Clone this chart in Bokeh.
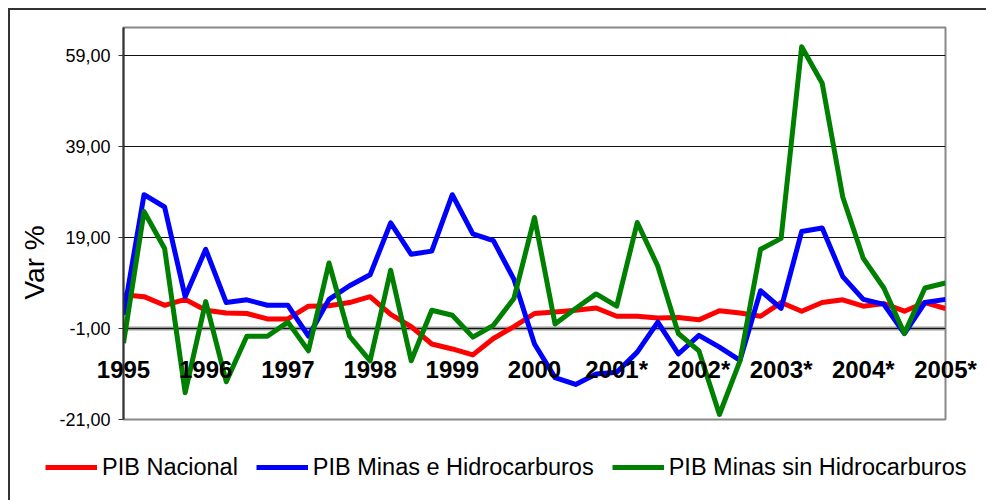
from bokeh.plotting import figure
from bokeh.models import (Range1d, FixedTicker, Legend, LegendItem, LabelSet,
                          ColumnDataSource, Span)
from bokeh.core.properties import value
from bokeh.embed import file_html
from bokeh.resources import INLINE

# Quarterly observations, 1995 Q1 .. 2005 Q1
quarters = list(range(41))
pib_nacional = [6.4, 6.0, 4.1, 5.4, 3.0, 2.4, 2.3, 1.1, 1.1, 3.9, 4.0, 4.7, 6.0, 2.1,
                -0.6, -4.4, -5.5, -6.8, -3.2, -0.6, 2.3, 2.6, 3.0, 3.5, 1.7, 1.7, 1.3,
                1.4, 0.9, 2.9, 2.4, 1.7, 4.7, 2.8, 4.7, 5.3, 3.9, 4.5, 2.8, 4.7, 3.4]
pib_minas_hidro = [2.0, 28.4, 25.7, 6.0, 16.4, 4.7, 5.3, 4.1, 4.1, -2.7, 5.4, 8.4, 10.8,
                   22.2, 15.3, 16.0, 28.4, 19.8, 18.3, 9.8, -4.4, -11.8, -13.3, -11.0,
                   -10.6, -6.2, 0.4, -6.6, -2.5, -5.1, -8.0, 7.3, 3.4, 20.3, 21.1, 10.4,
                   5.4, 4.3, -2.1, 4.7, 5.4]
pib_minas_sin_hidro = [-4.2, 24.7, 16.6, -15.1, 4.9, -12.7, -2.7, -2.7, 0.4, -5.9, 13.4,
                       -2.7, -8.1, 11.8, -8.1, 3.0, 1.9, -2.9, -0.3, 5.6, 23.4, 0.0, 3.4,
                       6.6, 3.9, 22.3, 12.7, -2.1, -5.9, -19.9, -8.1, 16.4, 18.8, 60.9,
                       52.9, 27.9, 14.4, 7.9, -2.1, 7.9, 9.0]

year_positions = [0, 4, 8, 12, 16, 20, 24, 28, 32, 36, 40]
year_labels = ["1995", "1996", "1997", "1998", "1999", "2000",
               "2001*", "2002*", "2003*", "2004*", "2005*"]
year_label_level = -10.0   # category labels sit below the axis crossing

y_ticks = [-21, -1, 19, 39, 59]
y_tick_labels = ["-21,00", "-1,00", "19,00", "39,00", "59,00"]
category_axis_crossing = -1

series_names = ["PIB Nacional", "PIB Minas e Hidrocarburos", "PIB Minas sin Hidrocarburos"]
series_colors = ["#ff0000", "#0000ff", "#008000"]

FONT = "Liberation Sans"
LINE_W = 5
W, H = 978, 492
BL, BT, BR, BB = 113, 17, 43, 83
X0, X1 = 0, 40
Y0, Y1 = -21, 65.15

p = figure(width=W, height=H, output_backend="svg", toolbar_location=None,
           x_range=Range1d(X0, X1), y_range=Range1d(Y0, Y1),
           x_axis_type=None,
           min_border_left=BL, min_border_top=BT, min_border_right=BR,
           min_border_bottom=BB)
p.styles = {"position": "absolute", "left": "8px", "top": "8px",
            "border-left": "2px solid #333333", "border-top": "2px solid #333333"}
p.background_fill_color = "white"
p.border_fill_color = "white"
p.outline_line_color = "#888888"
p.outline_line_width = 2

# value axis
ax = p.yaxis[0]
ax.ticker = FixedTicker(ticks=y_ticks)
ax.major_label_overrides = {t: l for t, l in zip(y_ticks, y_tick_labels)}
ax.major_label_text_font = FONT
ax.major_label_text_font_size = "18px"
ax.major_label_text_color = "black"
ax.major_label_standoff = 8
ax.major_tick_out = 5
ax.major_tick_in = 0
ax.minor_tick_line_color = None
ax.axis_line_color = "#333333"
ax.axis_line_width = 2
ax.major_tick_line_color = "#333333"
ax.axis_label = "Var %" + "\u00a0" * 10
ax.axis_label_text_font = FONT
ax.axis_label_text_font_size = "28px"
ax.axis_label_text_font_style = "normal"
ax.axis_label_text_color = "black"
ax.axis_label_standoff = 6

p.ygrid.ticker = FixedTicker(ticks=y_ticks)
p.ygrid.grid_line_color = "#111111"
p.ygrid.grid_line_width = 1
p.xgrid.grid_line_color = None

# category axis line crossing at -1 (drawn beneath the grid line)
p.add_layout(Span(location=category_axis_crossing, dimension="width",
                  line_color="#999999", line_width=4, level="image"))

for vals, col in zip([pib_nacional, pib_minas_hidro, pib_minas_sin_hidro], series_colors):
    p.line(quarters, vals, line_color=col, line_width=LINE_W, line_join="round")

# transparent overlay with the same scales, covering the whole chart area,
# so that category labels and legend are not clipped by the plot frame
fw, fh = W - BL - BR, H - BT - BB
ux, uy = (X1 - X0) / fw, (Y1 - Y0) / fh
ov = figure(width=W, height=H, output_backend="svg", toolbar_location=None,
            x_range=Range1d(X0 - BL * ux, X1 + BR * ux),
            y_range=Range1d(Y0 - BB * uy, Y1 + BT * uy),
            x_axis_type=None, y_axis_type=None,
            min_border_left=0, min_border_right=0, min_border_top=0, min_border_bottom=0)
ov.styles = {"position": "absolute", "left": "10px", "top": "10px"}
ov.background_fill_alpha = 0
ov.border_fill_alpha = 0
ov.outline_line_color = None
ov.grid.visible = False

src = ColumnDataSource(dict(x=year_positions, y=[year_label_level] * len(year_positions),
                            t=year_labels))
ov.add_layout(LabelSet(x="x", y="y", text="t", source=src, text_align="center",
                       text_baseline="middle", text_font=value(FONT),
                       text_font_size=value("24px"), text_font_style="bold",
                       text_color="black"))

leg_renderers = [ov.line([X0], [float("nan")], line_color=c, line_width=LINE_W)
                 for c in series_colors]
legend = Legend(items=[LegendItem(label=n, renderers=[r]) for n, r in zip(series_names, leg_renderers)],
                orientation="horizontal", location=(35, 20),
                label_text_font=FONT, label_text_font_size="23.5px",
                label_text_color="black", glyph_width=52, glyph_height=30,
                label_height=30, label_standoff=5, spacing=18, padding=0, margin=0,
                border_line_color=None, background_fill_alpha=0)
ov.add_layout(legend, "center")

open("out.html", "w").write(file_html([p, ov], INLINE))
